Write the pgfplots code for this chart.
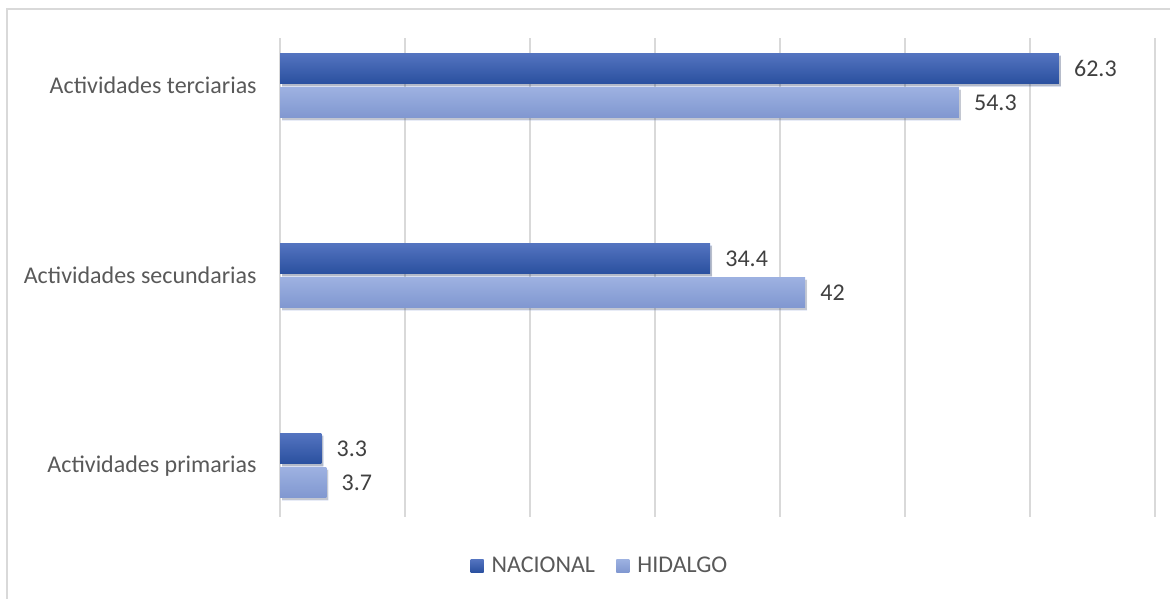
\documentclass[border=0pt]{standalone}
\usepackage{fontspec}
\setmainfont{Carlito}
\usepackage{pgfplots}
\pgfplotsset{compat=1.18}
\usetikzlibrary{shadows}

\definecolor{nacTop}{HTML}{5474C0}
\definecolor{nacBot}{HTML}{2A509F}
\definecolor{hidTop}{HTML}{9DB1E1}
\definecolor{hidBot}{HTML}{8097D0}
\definecolor{gridgray}{HTML}{D9D9D9}
\definecolor{labgray}{HTML}{595959}
\definecolor{valgray}{HTML}{404040}

\pgfplotsset{
  nacional/.style={draw=none, top color=nacTop, bottom color=nacBot, bar shift=0.09, forget plot,
    drop shadow={shadow xshift=1.5pt, shadow yshift=-1.8pt, opacity=0.18, fill=black}},
  hidalgo/.style={draw=none, top color=hidTop, bottom color=hidBot, bar shift=-0.09, forget plot,
    drop shadow={shadow xshift=1.5pt, shadow yshift=-1.8pt, opacity=0.18, fill=black}},
}

\begin{document}
\begin{tikzpicture}
\useasboundingbox (0,0) rectangle (877.5pt,449.25pt);
% outer chart frame (only top and left edges visible)
\draw[gridgray, line width=1.2pt] (5.25pt,0) -- (5.25pt,442.5pt) -- (877.5pt,442.5pt);

\begin{axis}[
    at={(210pt,61.5pt)}, anchor=south west,
    scale only axis,
    width=656.25pt, height=359.25pt,
    xbar,
    xmin=0, xmax=70,
    xtick={0,10,...,70},
    xticklabels={},
    ymin=-0.27, ymax=2.25,
    ytick={0,1,2},
    yticklabels={Actividades primarias, Actividades secundarias, Actividades terciarias},
    yticklabel style={font=\fontsize{18}{20}\selectfont, text=labgray, xshift=-14pt},
    major tick length=0pt,
    axis line style={draw=none},
    xmajorgrids,
    grid style={gridgray, line width=1.2pt},
    bar width=0.16,
    nodes near coords,
    nodes near coords style={font=\fontsize{18}{20}\selectfont, text=valgray, xshift=8pt},
    /pgf/number format/assume math mode=true,
    legend columns=2,
    legend style={at={(axis description cs:0.366,-0.102)}, anchor=center, draw=none,
        font=\fontsize{18}{20}\selectfont, text=labgray,
        /tikz/every odd column/.append style={column sep=4pt},
        /tikz/every even column/.append style={column sep=14pt}},
    legend image code/.code={\path[#1, draw=none] (0pt,-4.9pt) rectangle (9.8pt,4.9pt);},
]
% NACIONAL
\addplot[nacional] coordinates {(3.3,0)};
\addplot[nacional] coordinates {(34.4,1)};
\addplot[nacional] coordinates {(62.3,2)};
% HIDALGO
\addplot[hidalgo] coordinates {(3.7,0)};
\addplot[hidalgo] coordinates {(42,1)};
\addplot[hidalgo] coordinates {(54.3,2)};
\addlegendimage{top color=nacTop, bottom color=nacBot}
\addlegendentry{NACIONAL}
\addlegendimage{top color=hidTop, bottom color=hidBot}
\addlegendentry{HIDALGO}
\end{axis}
\end{tikzpicture}
\end{document}
